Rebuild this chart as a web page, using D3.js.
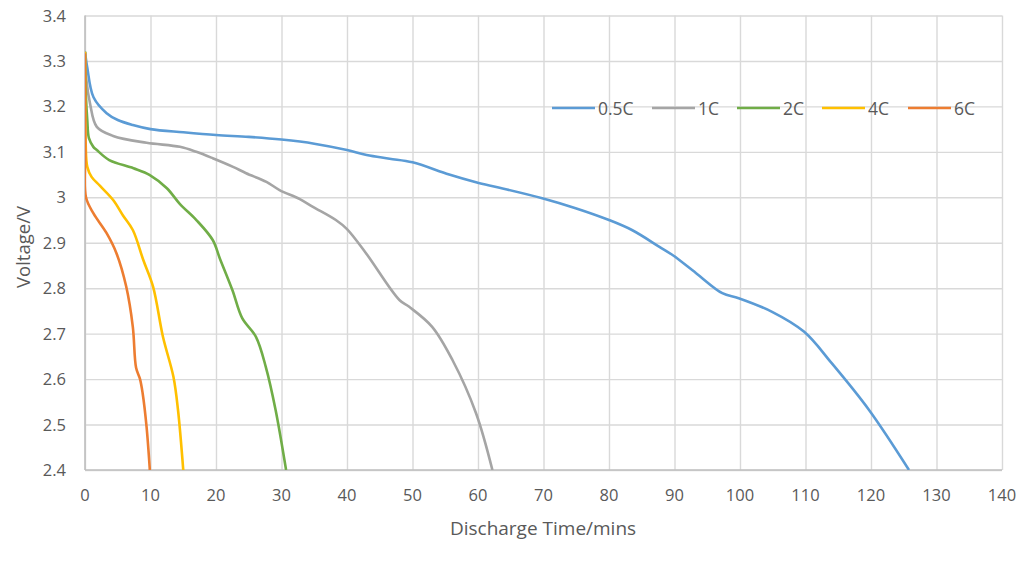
<!DOCTYPE html>
<html>
<head>
<meta charset="utf-8">
<script src="https://cdn.jsdelivr.net/npm/d3@7"></script>
<style>
  body { margin: 0; background: #fff; }
  svg { display: block; font-family: "Open Sans", sans-serif; }
</style>
</head>
<body>
<svg id="chart" width="1028" height="561"></svg>
<script>
  // discharge curves, [time in mins, voltage]
  const rate05C = [[0, 3.32], [0.35, 3.285], [1.3, 3.22], [3.3, 3.185], [5, 3.17], [7.3, 3.159], [10, 3.15],
    [15, 3.143], [20, 3.137], [25, 3.133], [30, 3.127], [35, 3.118], [40, 3.104], [43, 3.093], [46.5, 3.085],
    [50, 3.077], [55.6, 3.05], [59.7, 3.033], [63.3, 3.021], [69.8, 2.998], [74.9, 2.976], [80, 2.95],
    [83.5, 2.928], [87.7, 2.891], [89.7, 2.873], [93.3, 2.833], [97.3, 2.789], [99.8, 2.778], [104.9, 2.748],
    [109.8, 2.704], [114, 2.635], [119.7, 2.532], [125.8, 2.4]];
  const rate1C = [[0, 3.32], [0.2, 3.26], [0.76, 3.207], [1.8, 3.155], [4.3, 3.135], [9.4, 3.12], [14.5, 3.111],
    [17, 3.1], [19.5, 3.086], [22.6, 3.067], [24.6, 3.053], [27.7, 3.034], [29.7, 3.016], [32.8, 2.996],
    [34.8, 2.979], [38.3, 2.95], [40, 2.93], [42.9, 2.877], [48, 2.774], [49.5, 2.759], [53, 2.715],
    [56.1, 2.642], [59.7, 2.525], [62.2, 2.4]];
  const rate2C = [[0, 3.32], [0.15, 3.22], [0.35, 3.17], [0.6, 3.13], [1.27, 3.111], [1.8, 3.104], [3.7, 3.082],
    [7.4, 3.064], [9.9, 3.049], [12.5, 3.02], [14.5, 2.985], [17, 2.95], [19.5, 2.906], [20.6, 2.865],
    [22.5, 2.796], [24, 2.734], [26.1, 2.693], [27.6, 2.627], [29.1, 2.532], [30.7, 2.4]];
  const rate4C = [[0, 3.32], [0.1, 3.12], [0.35, 3.067], [1, 3.045], [2.3, 3.025], [4.3, 2.994], [5.8, 2.96],
    [7.3, 2.928], [8.9, 2.862], [10.4, 2.803], [11.9, 2.693], [13.5, 2.605], [14.2, 2.532], [15, 2.4]];
  const rate6C = [[0, 3.317], [0.05, 3.1], [0.15, 3.0], [1.27, 2.965], [3.3, 2.921], [4.8, 2.877], [6.3, 2.803],
    [7.3, 2.715], [7.8, 2.625], [8.4, 2.6], [8.8, 2.569], [9.4, 2.495], [9.9, 2.4]];

  const seriesNames = ['0.5C', '1C', '2C', '4C', '6C'];
  const seriesData = [rate05C, rate1C, rate2C, rate4C, rate6C];
  const seriesColors = ['#5b9bd5', '#a5a5a5', '#70ad47', '#ffc000', '#ed7d31'];
  const xTicks = d3.range(0, 141, 10);
  const yTicks = [2.4, 2.5, 2.6, 2.7, 2.8, 2.9, 3, 3.1, 3.2, 3.3, 3.4];

  const svg = d3.select('#chart');
  const plotLeft = 85, plotRight = 1002, plotTop = 15.5, plotBottom = 470;

  const x = d3.scaleLinear().domain([0, 140]).range([plotLeft, plotRight]);
  const y = d3.scaleLinear().domain([2.4, 3.4]).range([plotBottom, plotTop]);

  // gridlines
  svg.append('g')
    .attr('transform', `translate(0,${plotBottom})`)
    .call(d3.axisBottom(x).tickValues(xTicks).tickSize(-(plotBottom - plotTop)).tickFormat(''))
    .call(ax => ax.select('.domain').remove())
    .call(ax => ax.selectAll('.tick line').attr('stroke', '#d9d9d9').attr('stroke-width', 1.4));
  svg.append('g')
    .attr('transform', `translate(${plotLeft},0)`)
    .call(d3.axisLeft(y).tickValues(yTicks).tickSize(-(plotRight - plotLeft)).tickFormat(''))
    .call(ax => ax.select('.domain').remove())
    .call(ax => ax.selectAll('.tick line').attr('stroke', '#d9d9d9').attr('stroke-width', 1.4));

  // axis lines
  svg.append('line').attr('x1', plotLeft).attr('x2', plotRight).attr('y1', plotBottom).attr('y2', plotBottom)
    .attr('stroke', '#bfbfbf').attr('stroke-width', 1.6);
  svg.append('line').attr('x1', plotLeft).attr('x2', plotLeft).attr('y1', plotTop).attr('y2', plotBottom)
    .attr('stroke', '#bfbfbf').attr('stroke-width', 1.6);

  // tick labels
  svg.append('g').selectAll('text').data(xTicks).join('text')
    .attr('x', d => x(d)).attr('y', 501)
    .attr('text-anchor', 'middle')
    .attr('font-size', 16.5).attr('fill', '#595959')
    .text(d => d);
  svg.append('g').selectAll('text').data(yTicks).join('text')
    .attr('x', 66).attr('y', d => y(d) + 6)
    .attr('text-anchor', 'end')
    .attr('font-size', 16.5).attr('fill', '#595959')
    .text(d => d);

  // axis titles
  svg.append('text')
    .attr('x', 543).attr('y', 535)
    .attr('text-anchor', 'middle')
    .attr('font-size', 19).attr('fill', '#595959')
    .text('Discharge Time/mins');
  svg.append('text')
    .attr('transform', 'translate(30,247) rotate(-90)')
    .attr('text-anchor', 'middle')
    .attr('font-size', 18.5).attr('fill', '#595959')
    .text('Voltage/V');

  // curves
  svg.append('clipPath').attr('id', 'plot-clip')
    .append('rect').attr('x', plotLeft).attr('y', plotTop - 5)
    .attr('width', plotRight - plotLeft).attr('height', plotBottom - plotTop + 5);

  const line = d3.line()
    .x(d => x(d[0]))
    .y(d => y(d[1]))
    .curve(d3.curveCatmullRom.alpha(0.5));

  svg.append('g').attr('clip-path', 'url(#plot-clip)')
    .selectAll('path').data(seriesData).join('path')
    .attr('d', line)
    .attr('fill', 'none')
    .attr('stroke', (d, i) => seriesColors[i])
    .attr('stroke-width', 2.6)
    .attr('stroke-linejoin', 'round');

  // legend
  const legendX = [552, 652, 737, 822, 908];
  const legend = svg.append('g').selectAll('g').data(seriesNames).join('g')
    .attr('transform', (d, i) => `translate(${legendX[i]},108)`);
  legend.append('line')
    .attr('x1', 0).attr('x2', 43).attr('y1', 0).attr('y2', 0)
    .attr('stroke', (d, i) => seriesColors[i]).attr('stroke-width', 2.6);
  legend.append('text')
    .attr('x', 46).attr('y', 6.5)
    .attr('font-size', 17.5).attr('fill', '#595959')
    .text(d => d);
</script>
</body>
</html>
